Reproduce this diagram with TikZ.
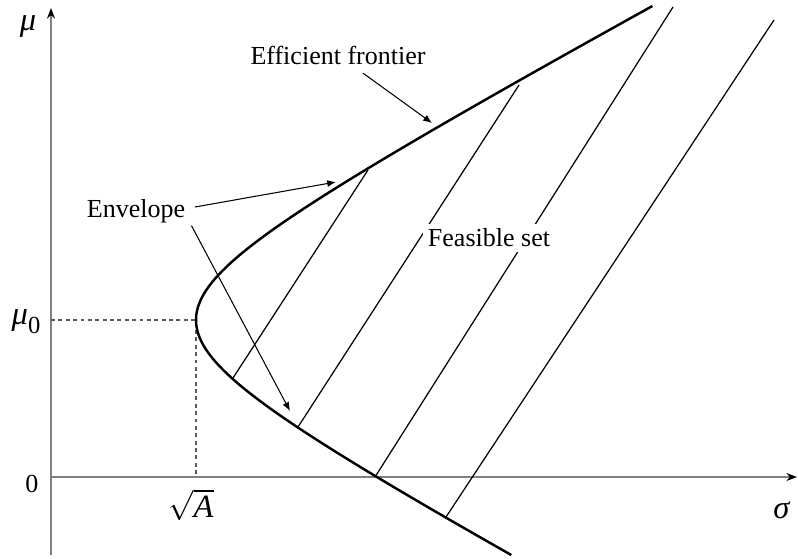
\documentclass[tikz,border=0pt]{standalone}
\usepackage{amsmath}
\usepackage{fontspec}
\setmainfont{Liberation Serif}
\usetikzlibrary{arrows.meta, positioning, calc}

\begin{document}
\begin{tikzpicture}[
    axis/.style={gray, line width=1.1pt},
    axistip/.style={-{Stealth[black, length=6pt, width=4.5pt]}},
    frontier/.style={black, line width=1.4pt},
    feas/.style={black, line width=0.7pt},
    pointer/.style={-{Latex[length=5pt, width=4pt]}, line width=0.6pt},
    guide/.style={dash pattern=on 2.2pt off 2pt, gray!70!black, line width=0.8pt},
    lbl/.style={font=\fontsize{14.8}{17}\selectfont, inner sep=2pt},
    mlbl/.style={font=\fontsize{18.5}{21}\selectfont, inner sep=1pt}
]
    \useasboundingbox (-1.02,-1.62) rectangle (14.94,9.54);

    % Axes
    \coordinate (O) at (0,0);
    \coordinate (ybot) at (0,-1.56);
    \coordinate (ytop) at (0,9.38);
    \coordinate (xend) at (14.92,0);
    \draw[axis, axistip] (ybot) -- (ytop);
    \draw[axis, axistip] (O) -- (xend);

    % Axis labels
    \node[mlbl] (mu) at (-0.46,9.0) {\textit{μ}};
    \node[mlbl] (mu0) at (-0.50,3.10) {\textit{μ}\raisebox{-0.28em}{\fontsize{14}{16}\selectfont 0}};
    \node[lbl] (zero) at (-0.38,-0.14) {0};
    \node[mlbl] (sqa) at (2.8,-0.56) {$\sqrt{\textit{A}}$};
    \node[mlbl] (sig) at (14.62,-0.66) {\textit{σ}};

    % Minimum variance point
    \coordinate (V) at (2.9,3.14);
    \draw[guide] (O |- V) -- (V) -- (V |- O);

    % Feasible set (parallel lines)
    \foreach \xa/\ya/\xb/\yb in {3.64/1.98/6.34/6.14, 4.94/1.0/9.36/7.84,
                                 6.48/0/12.44/9.40, 7.90/-0.80/14.46/9.14}
        \draw[feas] (\xa,\ya) -- (\xb,\yb);

    % Envelope (hyperbola)
    \draw[frontier] plot[domain=-1.56:9.42, samples=150, variable=\m]
        ({2.9*sqrt(1+((\m-3.14)/1.56)*((\m-3.14)/1.56))}, \m);

    % Labels and pointers
    \node[lbl] (ef) at (5.74,8.44) {Efficient frontier};
    \node[lbl] (env) at (1.70,5.32) {Envelope};
    \node[lbl, fill=white, inner sep=3pt] (fs) at (8.76,4.78) {Feasible set};

    \coordinate (ef-tip) at (7.62,7.08);
    \coordinate (env-tip1) at (5.70,5.90);
    \coordinate (env-tip2) at (4.78,1.32);
    \draw[pointer] ([shift={(0.5,-0.1)}]ef.south) -- (ef-tip);
    \draw[pointer] ([shift={(0.12,0.08)}]env.east) -- (env-tip1);
    \draw[pointer] ([shift={(0.05,0.02)}]env.south east) -- (env-tip2);
\end{tikzpicture}
\end{document}
